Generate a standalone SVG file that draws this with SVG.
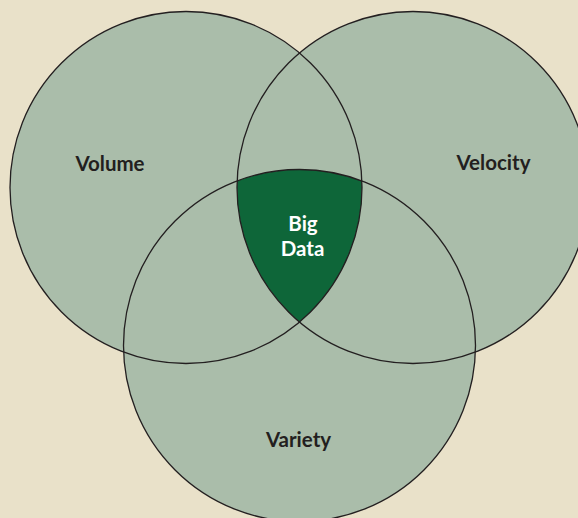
<svg xmlns="http://www.w3.org/2000/svg" width="578" height="518" viewBox="0 0 578 518">
<style>
.fill{fill:#aabdaa;stroke:none}
.ring{fill:none;stroke:#231f20;stroke-width:1.3}
.lbl{font-family:Lato,"Open Sans","Liberation Sans",sans-serif;font-weight:bold;font-size:20.5px;fill:#231f20;text-anchor:middle}
.core{fill:#ffffff}
</style>
<defs>
<clipPath id="clipL"><circle cx="186" cy="187.5" r="176"/></clipPath>
<clipPath id="clipR"><circle cx="413" cy="187.5" r="176"/></clipPath>
</defs>
<rect width="578" height="518" fill="#e9e1c9"/>
<g id="fills">
<circle class="fill" cx="186" cy="187.5" r="176"/>
<circle class="fill" cx="413" cy="187.5" r="176"/>
<circle class="fill" cx="299.5" cy="345.5" r="176"/>
</g>
<g id="bigdata-region" clip-path="url(#clipL)">
<g clip-path="url(#clipR)">
<circle cx="299.5" cy="345.5" r="176" fill="#0e6639"/>
</g>
</g>
<g id="connectors"></g>
<g id="volume">
<circle class="ring" cx="186" cy="187.5" r="176"/>
<text class="lbl" x="110" y="170.5">Volume</text>
</g>
<g id="velocity">
<circle class="ring" cx="413" cy="187.5" r="176"/>
<text class="lbl" x="493.5" y="170">Velocity</text>
</g>
<g id="variety">
<circle class="ring" cx="299.5" cy="345.5" r="176"/>
<text class="lbl" x="298.5" y="446.5">Variety</text>
</g>
<g id="bigdata">
<text class="lbl core" x="303" y="230.5">Big</text>
<text class="lbl core" x="302.5" y="255.5">Data</text>
</g>
</svg>
